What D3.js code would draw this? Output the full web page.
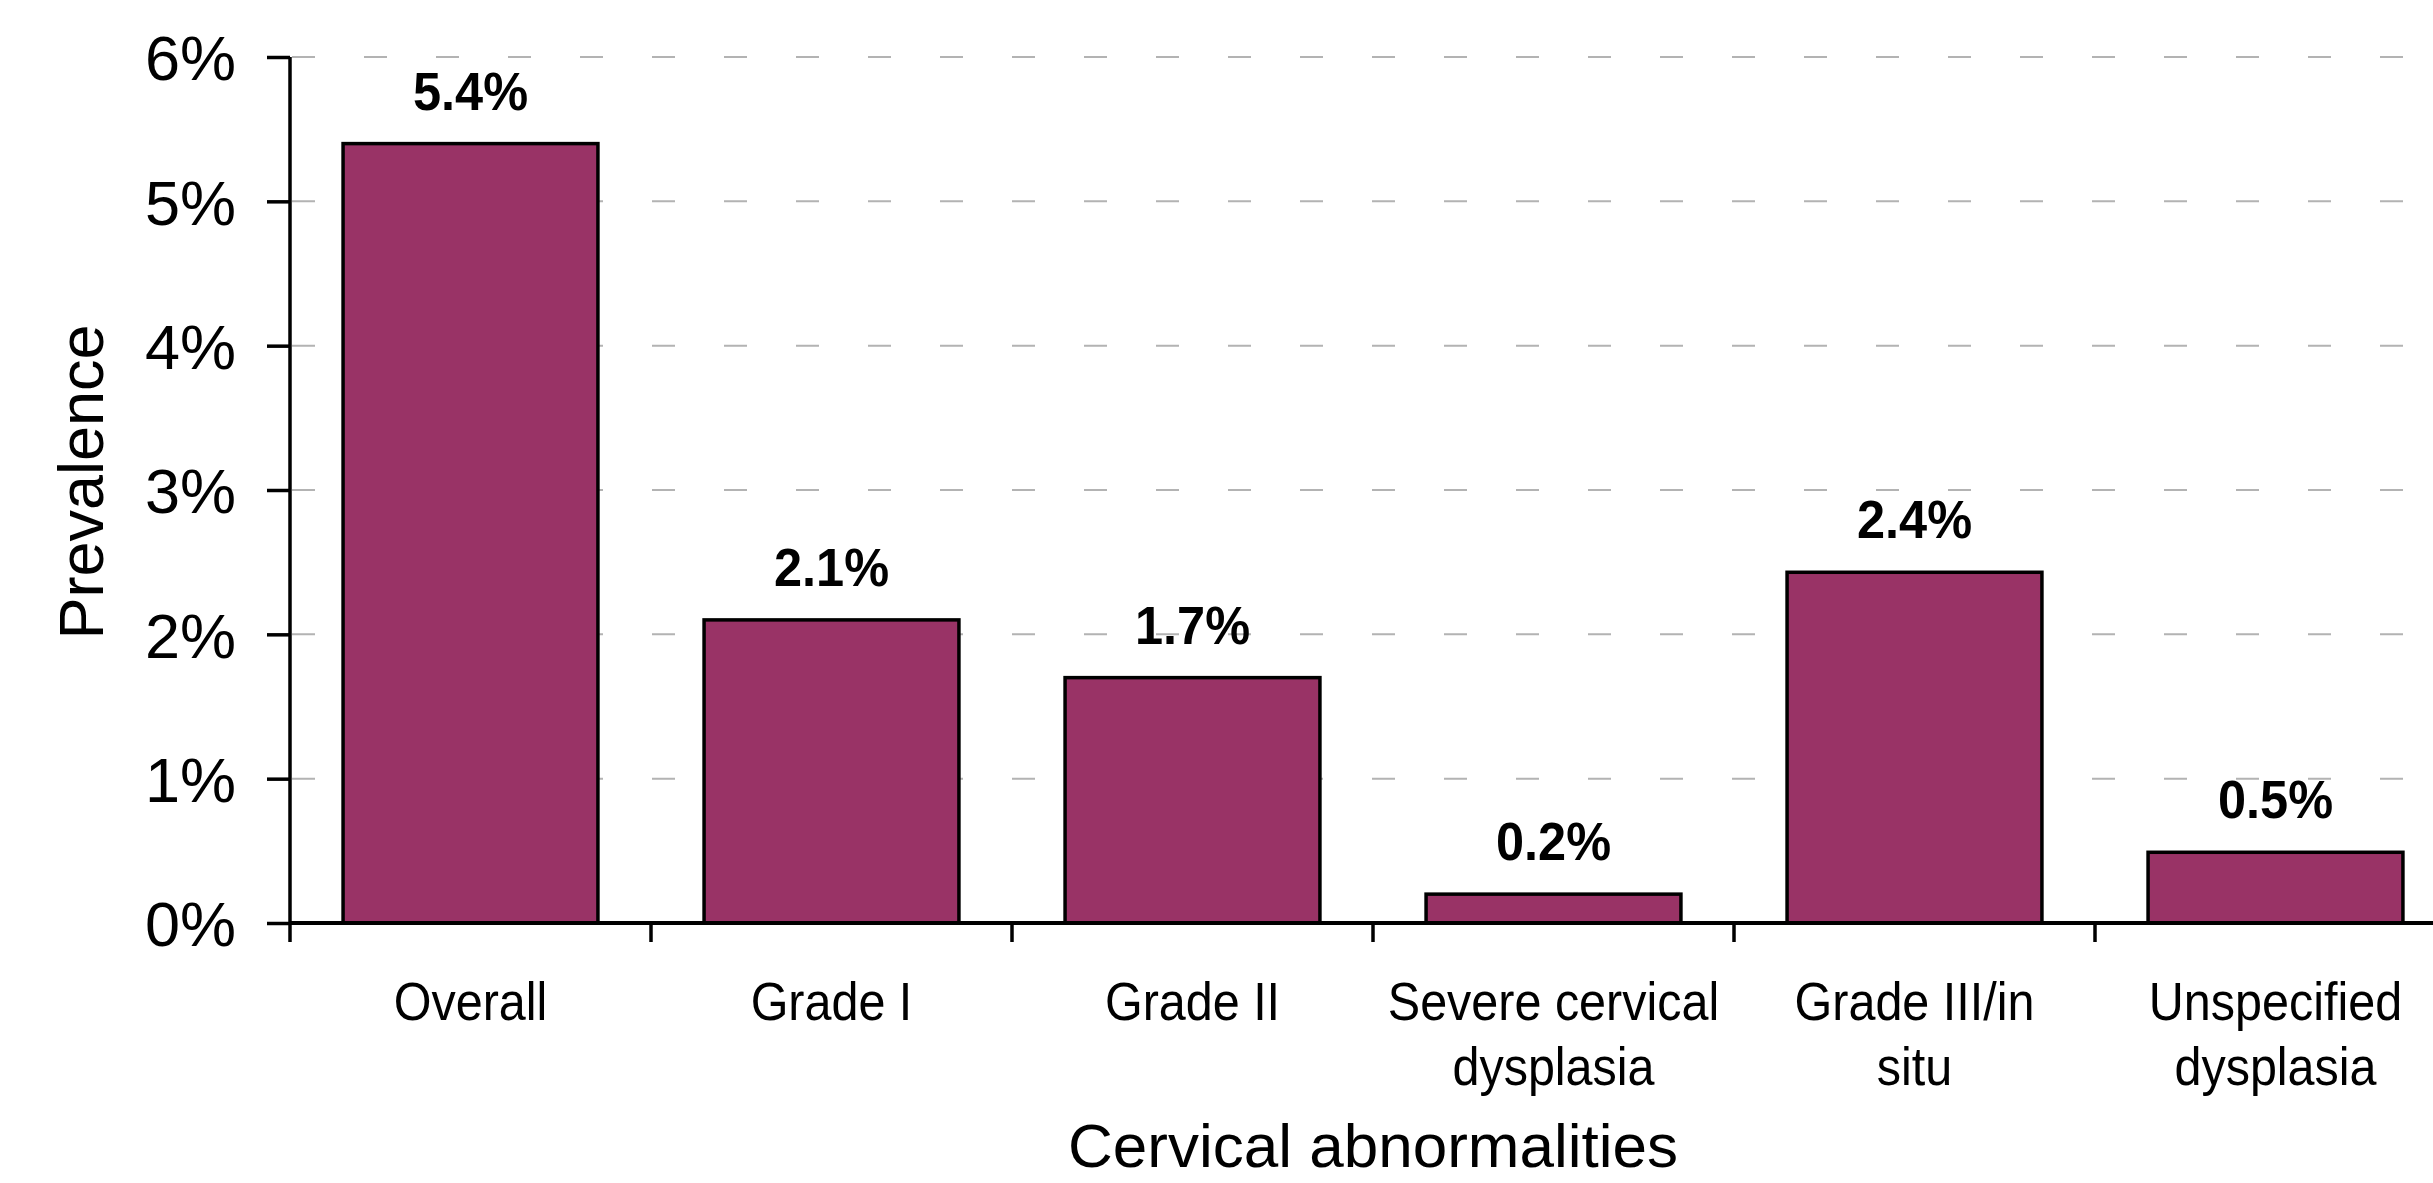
<!DOCTYPE html>
<html>
<head>
<meta charset="utf-8">
<script src="https://cdn.jsdelivr.net/npm/d3@7"></script>
<style>
  html, body { margin: 0; padding: 0; background: #ffffff; overflow: hidden; }
  svg { display: block; }
  text { font-family: "Liberation Sans", Arial, sans-serif; }
</style>
</head>
<body>
<script>
// ---- data ----
const categories = ["Overall", "Grade I", "Grade II", "Severe cervical dysplasia", "Grade III/in situ", "Unspecified dysplasia"];
const categoryLines = [["Overall"], ["Grade I"], ["Grade II"], ["Severe cervical", "dysplasia"], ["Grade III/in", "situ"], ["Unspecified", "dysplasia"]];
const prevalence = [5.4, 2.1, 1.7, 0.2, 2.43, 0.49];
const valueLabels = ["5.4%", "2.1%", "1.7%", "0.2%", "2.4%", "0.5%"];
const yTicks = [0, 1, 2, 3, 4, 5, 6];
const yTickLabels = ["0%", "1%", "2%", "3%", "4%", "5%", "6%"];
const yTitle = "Prevalence";
const xTitle = "Cervical abnormalities";

// ---- layout ----
const W = 2433, H = 1183;
const x0 = 290, y0 = 923, yTop = 57;
const step = 361;

const svg = d3.select("body").append("svg").attr("width", W).attr("height", H);

const x = d3.scaleBand()
  .domain(categories)
  .range([x0, x0 + step * categories.length])
  .paddingInner(0.294)
  .paddingOuter(0.147);

const y = d3.scaleLinear().domain([0, 6]).range([y0, yTop]);

// gridlines
svg.append("g").selectAll("line")
  .data(yTicks.filter(d => d > 0))
  .join("line")
  .attr("x1", x0 + 2).attr("x2", W)
  .attr("y1", d => y(d)).attr("y2", d => y(d))
  .attr("stroke", "#b3b3b3").attr("stroke-width", 2)
  .attr("stroke-dasharray", "23,49");

// bars
svg.append("g").selectAll("rect")
  .data(categories)
  .join("rect")
  .attr("x", d => x(d))
  .attr("width", x.bandwidth())
  .attr("y", (d, i) => y(prevalence[i]))
  .attr("height", (d, i) => y0 - y(prevalence[i]))
  .attr("fill", "#993366")
  .attr("stroke", "#000").attr("stroke-width", 3.5);

// value labels (slightly condensed, as in the reference)
svg.append("g").selectAll("text")
  .data(categories)
  .join("text")
  .attr("transform", (d, i) => `translate(${x(d) + x.bandwidth() / 2},${y(prevalence[i]) - 34}) scale(0.935,1)`)
  .attr("text-anchor", "middle")
  .attr("font-size", 54).attr("font-weight", "bold").attr("fill", "#000")
  .text((d, i) => valueLabels[i]);

// y axis
const yAxis = d3.axisLeft(y).tickValues(yTicks).tickFormat((d, i) => yTickLabels[i]).tickSize(23).tickPadding(31);
const gy = svg.append("g").attr("transform", `translate(${x0},0)`).call(yAxis);
gy.select(".domain").attr("stroke", "#000").attr("stroke-width", 3.5).attr("d", `M0,${yTop}V${y0}`);
gy.selectAll(".tick line").attr("stroke", "#000").attr("stroke-width", 3.5);
gy.selectAll(".tick text").attr("font-size", 63).attr("fill", "#000").attr("dy", "0.36em")
  .style("font-family", '"Liberation Sans", Arial, sans-serif');

// x axis: ticks at band boundaries
const boundaries = d3.range(categories.length + 1).map(i => x0 + i * step);
svg.append("line")
  .attr("x1", x0).attr("x2", W).attr("y1", y0).attr("y2", y0)
  .attr("stroke", "#000").attr("stroke-width", 4);
svg.append("g").selectAll("line")
  .data(boundaries)
  .join("line")
  .attr("x1", d => d).attr("x2", d => d)
  .attr("y1", y0).attr("y2", y0 + 19)
  .attr("stroke", "#000").attr("stroke-width", 3.5);

// category labels (slightly condensed)
const cl = svg.append("g").selectAll("text")
  .data(categories)
  .join("text")
  .attr("text-anchor", "middle")
  .attr("font-size", 53).attr("fill", "#000")
  .attr("transform", d => `translate(${x(d) + x.bandwidth() / 2},${y0 + 97}) scale(0.915,1)`);
cl.each(function (d, i) {
  const t = d3.select(this);
  categoryLines[i].forEach((line, j) => {
    t.append("tspan").attr("x", 0).attr("y", j * 65).text(line);
  });
});

// axis titles
svg.append("text")
  .attr("x", x0 + step * categories.length / 2)
  .attr("y", 1167)
  .attr("text-anchor", "middle")
  .attr("font-size", 62).attr("fill", "#000")
  .text(xTitle);

svg.append("text")
  .attr("transform", `translate(103,${(yTop + y0) / 2 - 8}) rotate(-90)`)
  .attr("text-anchor", "middle")
  .attr("font-size", 63).attr("fill", "#000")
  .text(yTitle);
</script>
</body>
</html>
